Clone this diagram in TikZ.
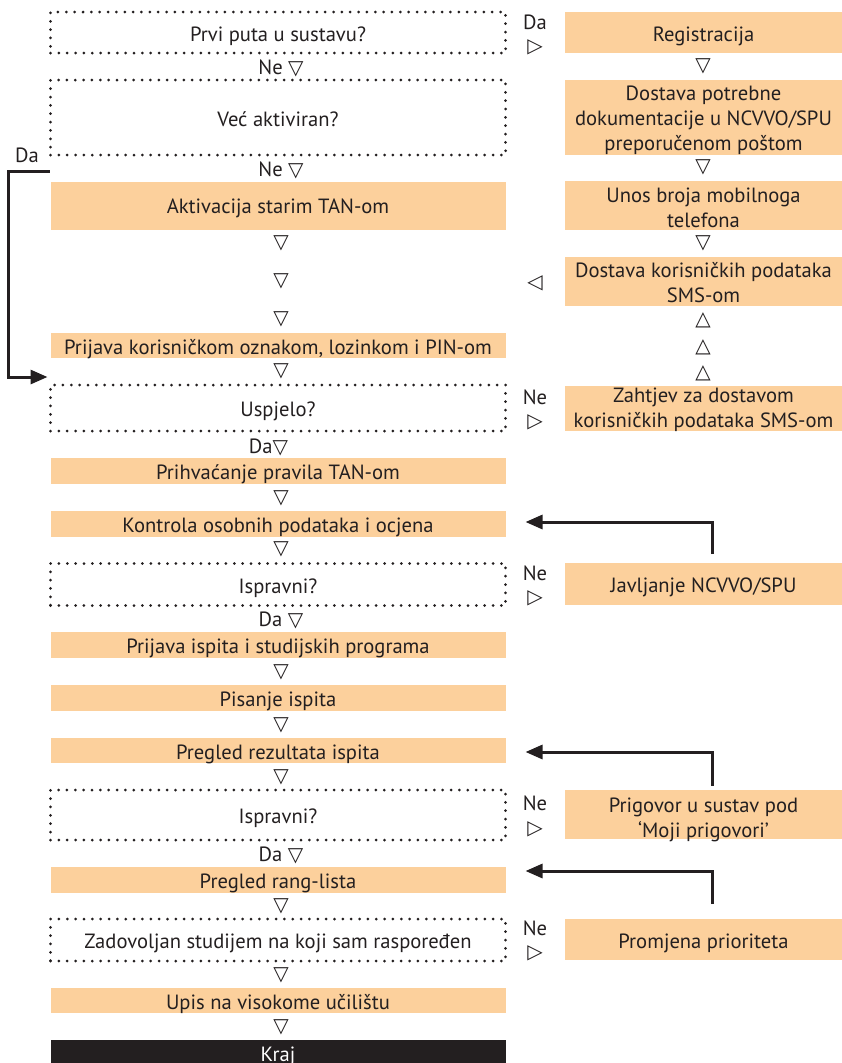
\documentclass[tikz,border=0pt]{standalone}
\usepackage{fontspec}
\setmainfont{PT Sans}
\newfontfamily\symfont{DejaVu Sans}
\usetikzlibrary{arrows.meta}
\definecolor{peach}{RGB}{252,208,156}
\definecolor{ink}{RGB}{35,31,32}
\tikzset{
  txt/.style={text=ink, font=\fontsize{20.6}{25}\selectfont, align=center, inner sep=0pt, outer sep=0pt, text height=17pt, text depth=0pt},
  fbox/.style={txt, fill=peach},
  lbox/.style={minimum width=455pt},
  rbox/.style={minimum width=277pt},
  qbox/.style={txt, draw=ink, line width=3pt, dash pattern=on 0pt off 8.35pt, line cap=round},
  endbox/.style={txt, fill=ink, text=white},
  tri/.style={text=ink, font=\symfont\fontsize{20}{20}\selectfont, inner sep=0pt},
  lbl/.style={text=ink, font=\fontsize{20.6}{22}\selectfont, inner sep=0pt},
  ret/.style={draw=ink, line width=3pt, -{Triangle[length=17pt,width=14pt]}},
}
\newcommand{\dtri}{{\symfont\fontsize{20}{20}\selectfont ▽}}
\begin{document}
\begin{tikzpicture}[x=1pt,y=-1pt]
\useasboundingbox (0,0) rectangle (842,1063);
\clip (0,0) rectangle (842,1063);
% left column
\node[qbox,lbox,minimum height=41pt] (q1) at (278,32.5) {Prvi puta u sustavu?};
\node[lbl] (ne1) at (281,68) {Ne \dtri};
\node[qbox,lbox,minimum height=75pt] (q2) at (278,117.5) {Već aktiviran?};
\node[lbl] (ne2) at (281,170) {Ne \dtri};
\node[fbox,lbox,minimum height=48pt,text height=15pt] (akt) at (278,206) {Aktivacija starim TAN-om};
\node[tri] (t1) at (281,243) {▽};
\node[tri] (t2) at (281,281) {▽};
\node[tri] (t3) at (281,319) {▽};
\node[fbox,lbox,minimum height=25pt] (pri) at (278,345.5) {Prijava korisničkom oznakom, lozinkom i PIN-om};
\node[tri] (t4) at (281,371) {▽};
\node[qbox,lbox,minimum height=46pt] (usp) at (278,408) {Uspjelo?};
\node[lbl] (da1) at (268.5,447) {Da\dtri};
\node[fbox,lbox,minimum height=26pt] (prh) at (278,471) {Prihvaćanje pravila TAN-om};
\node[tri] (t5) at (281,498) {▽};
\node[fbox,lbox,minimum height=26pt] (kon) at (278,524) {Kontrola osobnih podataka i ocjena};
\node[tri] (t6) at (281,549) {▽};
\node[qbox,lbox,minimum height=42pt] (isp1) at (278,584.5) {Ispravni?};
\node[lbl] (da2) at (281,620) {Da \dtri};
\node[fbox,lbox,minimum height=26pt] (pis1) at (278,645) {Prijava ispita i studijskih programa};
\node[tri] (t7) at (281,672) {▽};
\node[fbox,lbox,minimum height=26pt] (pis) at (278,698) {Pisanje ispita};
\node[tri] (t8) at (281,725) {▽};
\node[fbox,lbox,minimum height=25pt] (prz) at (278,750.5) {Pregled rezultata ispita};
\node[tri] (t9) at (281,777) {▽};
\node[qbox,lbox,minimum height=50pt] (isp2) at (278,815) {Ispravni?};
\node[lbl] (da3) at (281,855) {Da \dtri};
\node[fbox,lbox,minimum height=26pt] (prl) at (278,880) {Pregled rang-lista};
\node[tri] (t10) at (281,906) {▽};
\node[qbox,lbox,minimum height=42pt] (zad) at (278,940) {Zadovoljan studijem na koji sam raspoređen};
\node[tri] (t11) at (281,975) {▽};
\node[fbox,lbox,minimum height=25pt] (ups) at (278,1000.5) {Upis na visokome učilištu};
\node[tri] (t12) at (281,1027) {▽};
\node[endbox,lbox,minimum height=34pt,text height=9pt] (kraj) at (278,1057) {Kraj};
% right column
\node[fbox,rbox,minimum height=41pt] (reg) at (703.5,32.5) {Registracija};
\node[lbl] (rda) at (535,22) {Da};
\node[tri] (rt0) at (535,47) {▷};
\node[tri] (rt1) at (703,66) {▽};
\node[fbox,rbox,minimum height=75pt,text height=65pt] (dos) at (703.5,117.5) {Dostava potrebne\\dokumentacije u NCVVO/SPU\\preporučenom poštom};
\node[tri] (rt2) at (703,167) {▽};
\node[fbox,rbox,minimum height=49pt,text height=43pt] (unos) at (703.5,205.5) {Unos broja mobilnoga\\telefona};
\node[tri] (rt3) at (703,243) {▽};
\node[fbox,rbox,minimum height=49pt,text height=41pt] (dks) at (703.5,281.5) {Dostava korisničkih podataka\\SMS-om};
\node[tri] (rl) at (535,283) {◁};
\node[tri] (ru1) at (703,320) {△};
\node[tri] (ru2) at (703,347) {△};
\node[tri] (ru3) at (703,373) {△};
\node[fbox,rbox,minimum height=45pt,text height=38pt] (zah) at (703.5,408.5) {Zahtjev za dostavom\\korisničkih podataka SMS-om};
\node[lbl] (rne1) at (535,397) {Ne};
\node[tri] (rt4) at (535,422) {▷};
\node[fbox,rbox,minimum height=42pt] (jav) at (703.5,584) {Javljanje NCVVO/SPU};
\node[lbl] (rne2) at (535,573) {Ne};
\node[tri] (rt5) at (535,598) {▷};
\node[fbox,rbox,minimum height=49pt,text height=45pt] (prg) at (703.5,814.5) {Prigovor u sustav pod\\‘Moji prigovori’};
\node[lbl] (rne3) at (535,803) {Ne};
\node[tri] (rt6) at (535,829) {▷};
\node[fbox,rbox,minimum height=41pt] (prm) at (703.5,939.5) {Promjena prioriteta};
\node[lbl] (rne4) at (535,928) {Ne};
\node[tri] (rt7) at (535,953) {▷};
% connectors
\node[lbl] (lda) at (27,155) {Da};
\coordinate (lstart) at ([yshift=-16pt]q2.south west);
\coordinate (lx) at (8,0);
\coordinate (lend) at ([xshift=-3pt,yshift=8pt]usp.north west);
\draw[ret] ([xshift=-1pt]lstart) -- (lstart -| lx) |- (lend);
\coordinate (k1) at ([xshift=20pt,yshift=2pt]kon.east);
\draw[ret] ([xshift=8.5pt,yshift=9pt]jav.north) |- (k1);
\coordinate (k2) at ([xshift=20pt,yshift=-1.5pt]prz.east);
\draw[ret] ([xshift=8.5pt,yshift=4.5pt]prg.north) |- (k2);
\coordinate (k3) at ([xshift=20pt,yshift=9pt]prl.east);
\draw[ret] ([xshift=8.5pt,yshift=15pt]prm.north) |- (k3);
\end{tikzpicture}
\end{document}
